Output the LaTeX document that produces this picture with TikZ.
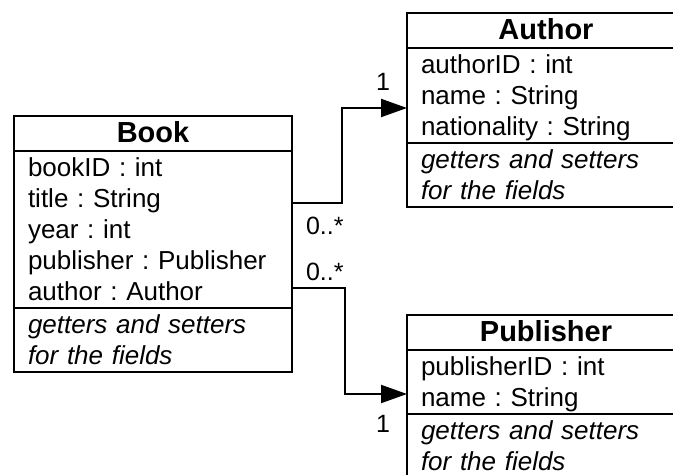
\documentclass[tikz,border=0pt]{standalone}
\usepackage{fontspec}
\setmainfont{Liberation Sans}
\usepackage{tikz}
\usetikzlibrary{arrows.meta,positioning}
\frenchspacing
\newcommand\rowstrut{\rule[-3pt]{0pt}{15.5pt}}
\tikzset{
  compart/.style={draw,line width=1pt,outer sep=0pt,text width=125pt,inner xsep=7pt,inner ysep=0.5pt,
    font=\fontsize{13}{15.5}\selectfont,execute at begin node=\rowstrut,execute at end node=\rowstrut},
  classhead/.style={compart,align=center,inner ysep=1pt,font=\fontsize{14.5}{15.5}\selectfont\bfseries},
  classattr/.style={compart,align=left},
  classops/.style={compart,align=left,font=\fontsize{13}{15.5}\selectfont\itshape},
  assoc/.style={-{Triangle[length=13pt,width=9pt]},line width=1pt},
  mult/.style={font=\fontsize{12.5}{15}\selectfont,inner xsep=6.5pt}
}
\begin{document}
\begin{tikzpicture}[x=0.5pt,y=0.5pt,node distance=0pt]
 \useasboundingbox (0,0) rectangle (673,475);
 \clip (0,0) rectangle (673,475);
 \fill[white] (0,0) rectangle (673,475);
 % Book
 \node[classhead,anchor=north west] (bookhead) at (14,359) {Book};
 \node[classattr,below=of bookhead] (bookattr) {bookID : int\\title : String\\year : int\\publisher : Publisher\\author : Author};
 \node[classops,below=of bookattr] (bookops) {getters and setters\\for the fields};
 % Author
 \node[classhead,anchor=north west] (authorhead) at (407,462) {Author};
 \node[classattr,below=of authorhead] (authorattr) {authorID : int\\name : String\\nationality : String};
 \node[classops,below=of authorattr] (authorops) {getters and setters\\for the fields};
 % Publisher
 \node[classhead,anchor=north west] (pubhead) at (407,160) {Publisher};
 \node[classattr,below=of pubhead] (pubattr) {publisherID : int\\name : String};
 \node[classops,below=of pubattr] (pubops) {getters and setters\\for the fields};
 % associations
 \draw[assoc] ([yshift=13.25pt]bookattr.east) node[mult,anchor=north west,inner ysep=6.5pt] (manyauth) {0..*}
   -- ++(25pt,0) |- ([yshift=-6.25pt]authorattr.west) node[mult,anchor=south east,inner xsep=8pt,inner ysep=8pt] (oneauth) {1};
 \draw[assoc] ([yshift=-29.25pt]bookattr.east) node[mult,anchor=south west,inner ysep=3pt] (manypub) {0..*}
   -- ++(26.5pt,0) |- ([yshift=-6pt]pubattr.west) node[mult,anchor=north east,inner xsep=8pt,inner ysep=10pt] (onepub) {1};
\end{tikzpicture}
\end{document}
